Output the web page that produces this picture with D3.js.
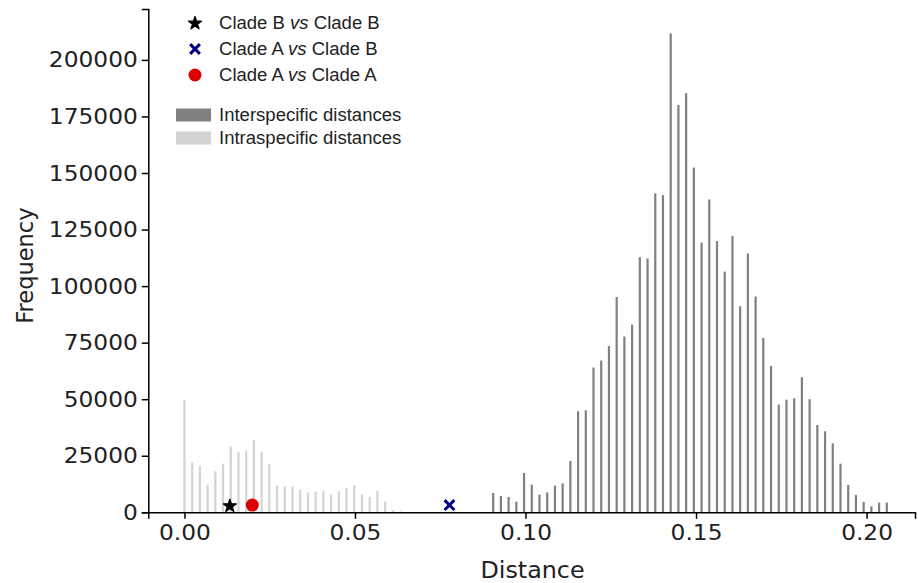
<!DOCTYPE html>
<html>
<head>
<meta charset="utf-8">
<script src="https://cdn.jsdelivr.net/npm/d3@7"></script>
<style>
  body { margin: 0; background: #fff; }
  svg { display: block; }
</style>
</head>
<body>
<div id="chart"></div>
<script>
// histogram bins: bar i sits at (start + i) * binWidth
const binWidth = 0.002263;
const intraStart = 0;
const intraCounts = [49800, 22000, 20600, 12200, 18100, 21500, 29000, 26800, 27300, 32000,
    26800, 21500, 11700, 11400, 11400, 10000, 8700, 9200, 9600, 8000,
    9300, 10800, 12000, 7900, 6700, 9500, 4800, 1000, 400, 200];
const interStart = 40;
const interCounts = [8550, 7200, 6800, 4700, 17400, 12200, 7800, 8800, 11800, 12800,
    22700, 44700, 45100, 64000, 67100, 73500, 95200, 77700, 83000, 112800,
    112200, 141000, 140200, 211700, 180100, 185300, 152400, 119200, 138300, 119900,
    106400, 122200, 91100, 114400, 95400, 77100, 64700, 47600, 49800, 50400,
    59700, 50000, 38600, 35800, 30500, 21500, 12100, 7700, 4600, 2600,
    4300, 4300];

const pairLabels = ["Clade B vs Clade B", "Clade A vs Clade B", "Clade A vs Clade A"];
const pairDistances = [0.0133, 0.0777, 0.0199];
const pairFreq = [2800, 3200, 3200];

const xTicks = [0.00, 0.05, 0.10, 0.15, 0.20];
const yTicks = [0, 25000, 50000, 75000, 100000, 125000, 150000, 175000, 200000];

const width = 918, height = 583;
const font = "DejaVu Sans, Verdana, sans-serif";
const legendFont = "Liberation Sans, Arial, sans-serif";
const stretch = 1.06; // the figure's text is a bit wider than it is tall

const svg = d3.select("#chart").append("svg")
    .attr("width", width)
    .attr("height", height);

const xScale = d3.scaleLinear().domain([-0.0106, 0.2142]).range([148.3, 915]);
const yScale = d3.scaleLinear().domain([0, 222500]).range([512.3, 9]);

const toBars = (start, counts) => counts.map((c, i) => ({ x: (start + i) * binWidth, n: c }));
const half = 0.00032;

// Bars
svg.append("g").selectAll("rect")
    .data(toBars(intraStart, intraCounts))
    .enter().append("rect")
    .attr("x", d => xScale(d.x - half))
    .attr("width", d => xScale(d.x + half) - xScale(d.x - half))
    .attr("y", d => yScale(d.n))
    .attr("height", d => yScale(0) - yScale(d.n))
    .attr("fill", "#d3d3d3");

svg.append("g").selectAll("rect")
    .data(toBars(interStart, interCounts))
    .enter().append("rect")
    .attr("x", d => xScale(d.x - half))
    .attr("width", d => xScale(d.x + half) - xScale(d.x - half))
    .attr("y", d => yScale(d.n))
    .attr("height", d => yScale(0) - yScale(d.n))
    .attr("fill", "#808080");

// Axes
const xAxis = svg.append("g")
    .attr("transform", `translate(0,${yScale(0)})`)
    .call(d3.axisBottom(xScale).tickValues(xTicks).tickFormat(d3.format(".2f")).tickSizeOuter(0).tickSize(6.5).tickPadding(6));

const yAxis = svg.append("g")
    .attr("transform", `translate(${xScale.range()[0]},0)`)
    .call(d3.axisLeft(yScale).tickValues(yTicks).tickFormat(d3.format("d")).tickSizeOuter(0).tickSize(6.5).tickPadding(4));

[xAxis, yAxis].forEach(a => {
    a.select(".domain").attr("stroke", "#000").attr("stroke-width", 1.5);
    a.selectAll(".tick line").attr("stroke", "#000").attr("stroke-width", 1.5);
    a.selectAll(".tick text")
        .style("font-family", font)
        .style("font-size", "22px")
        .attr("fill", "#222")
        .attr("transform", `scale(${stretch},1)`);
});
// keep y labels right-aligned at the same spot after the stretch
yAxis.selectAll(".tick text").attr("x", -10.5 / stretch);

// Axis labels
svg.append("text")
    .attr("transform", `translate(25,${(yScale.range()[0] + yScale.range()[1]) / 2 + 5}) rotate(-90)`)
    .attr("text-anchor", "middle")
    .attr("dominant-baseline", "central")
    .style("font-family", font)
    .style("font-size", "22.5px")
    .attr("fill", "#222")
    .text("Frequency");

svg.append("text")
    .attr("transform", `translate(${xScale(0.10) + 7},570) scale(${stretch},1)`)
    .attr("text-anchor", "middle")
    .attr("dominant-baseline", "central")
    .style("font-family", font)
    .style("font-size", "22.5px")
    .attr("fill", "#222")
    .text("Distance");

// Pair markers
const symbols = [
    { type: d3.symbolStar, size: 52, fill: "#000", stroke: "#000", sw: 1.3 },
    { type: d3.symbolTimes, size: 64, fill: "none", stroke: "#000080", sw: 3 },
    { type: d3.symbolCircle, size: 133, fill: "#dd0000", stroke: "none", sw: 0 }
];

const drawSymbol = (sel, s) => sel
    .attr("d", d3.symbol().type(s.type).size(s.size))
    .attr("fill", s.fill)
    .attr("stroke", s.stroke)
    .attr("stroke-width", s.sw)
    .attr("stroke-linejoin", "round");

pairDistances.forEach((dist, i) => {
    svg.append("path")
        .attr("transform", `translate(${xScale(dist)},${yScale(pairFreq[i])})`)
        .call(drawSymbol, symbols[i]);
});

// Legend
const legend = svg.append("g").style("font-family", legendFont).style("font-size", "17.5px");
const rowY = [23.3, 49, 75];
pairLabels.forEach((label, i) => {
    legend.append("path")
        .attr("transform", `translate(195,${rowY[i]})`)
        .call(drawSymbol, symbols[i]);
    const parts = label.split(" vs ");
    const t = legend.append("text")
        .attr("transform", `translate(219,${rowY[i]}) scale(${stretch},1)`)
        .attr("dominant-baseline", "central")
        .attr("fill", "#222");
    t.append("tspan").text(parts[0] + " ");
    t.append("tspan").style("font-style", "italic").text("vs");
    t.append("tspan").text(" " + parts[1]);
});

const patchRows = [
    { label: "Interspecific distances", color: "#808080", y: 115 },
    { label: "Intraspecific distances", color: "#d3d3d3", y: 138 }
];
patchRows.forEach(p => {
    legend.append("rect")
        .attr("x", 176).attr("y", p.y - 6.5)
        .attr("width", 35).attr("height", 13)
        .attr("fill", p.color);
    legend.append("text")
        .attr("transform", `translate(219,${p.y}) scale(${stretch},1)`)
        .attr("dominant-baseline", "central")
        .attr("fill", "#222")
        .text(p.label);
});
</script>
</body>
</html>
